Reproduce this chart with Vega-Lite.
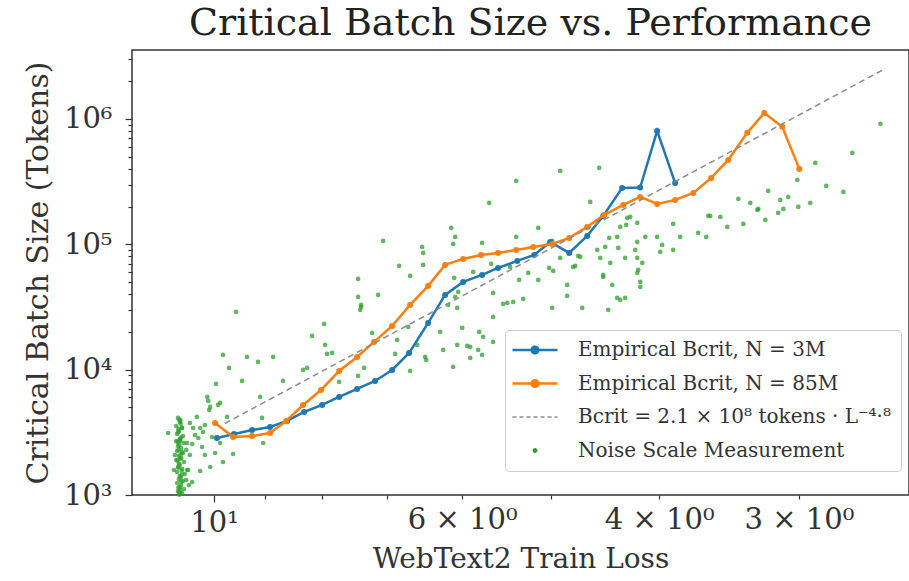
{
  "$schema": "https://vega.github.io/schema/vega-lite/v6.json",
  "width": 777,
  "height": 445,
  "autosize": {"type": "none"},
  "padding": {"left": 132, "top": 50, "right": 0, "bottom": 86},
  "background": "white",
  "title": {"text": "Critical Batch Size vs. Performance", "font": "DejaVu Serif", "fontSize": 38, "fontWeight": "normal", "color": "#222", "anchor": "middle", "offset": 2, "dx": 10},
  "config": {
    "font": "DejaVu Serif",
    "view": {"stroke": "#333", "strokeWidth": 1.5}
  },
  "datasets": {
    "noise": [
      {"L":10.77,"B":4118},{"L":10.73,"B":3825},{"L":10.81,"B":3553},{"L":10.68,"B":3424},{"L":10.75,"B":3241},{"L":10.79,"B":3069},{"L":10.66,"B":2957},{"L":10.73,"B":2798},{"L":10.81,"B":2698},{"L":10.64,"B":2600},{"L":10.77,"B":2461},{"L":10.70,"B":2372},{"L":10.79,"B":2245},{"L":10.66,"B":2163},{"L":10.75,"B":2048},{"L":10.70,"B":1974},{"L":10.81,"B":1902},{"L":10.64,"B":1834},{"L":10.73,"B":1735},{"L":10.77,"B":1673},{"L":10.68,"B":1612},{"L":10.79,"B":1526},{"L":10.62,"B":1471},{"L":10.73,"B":1418},{"L":10.75,"B":1342},{"L":10.66,"B":1293},{"L":10.79,"B":1247},{"L":10.70,"B":1202},{"L":10.73,"B":1158},{"L":10.64,"B":1117},{"L":10.77,"B":1076},{"L":10.68,"B":1037},{"L":10.73,"B":1018},{"L":10.59,"B":1317},{"L":10.86,"B":1583},{"L":10.84,"B":2085},{"L":10.59,"B":2287},{"L":10.55,"B":1583},{"L":10.53,"B":1202},
      {"L":10.72,"B":3950},{"L":10.76,"B":3350},{"L":10.70,"B":2880},{"L":10.74,"B":2520},{"L":10.71,"B":2100},{"L":10.75,"B":1780},{"L":10.69,"B":1450},{"L":10.72,"B":1100},{"L":10.74,"B":1050},{"L":10.70,"B":1280},
      {"L":10.74,"B":4000},{"L":10.71,"B":3700},{"L":10.77,"B":3150},{"L":10.72,"B":2700},{"L":10.76,"B":2300},{"L":10.72,"B":1950},{"L":10.76,"B":1650},{"L":10.71,"B":1380},{"L":10.76,"B":1150},{"L":10.74,"B":1005},{"L":10.69,"B":3450},{"L":10.78,"B":2650},{"L":10.69,"B":2200},{"L":10.78,"B":1880},{"L":10.69,"B":1560},
      {"L":9.557,"B":28870},{"L":9.817,"B":13100},{"L":9.344,"B":12630},{"L":9.134,"B":11520},{"L":8.856,"B":12630},{"L":9.696,"B":10320},{"L":9.440,"B":8125},{"L":8.676,"B":8125},{"L":9.959,"B":7690},{"L":10.14,"B":6055},{"L":10.12,"B":5627},{"L":9.877,"B":5424},{"L":10.10,"B":4769},{"L":9.096,"B":6055},{"L":9.736,"B":4194},{"L":9.059,"B":4118},{"L":10.36,"B":4194},{"L":10.51,"B":3755},{"L":10.29,"B":3424},{"L":10.44,"B":3424},{"L":10.23,"B":3182},{"L":10.99,"B":3125},{"L":10.46,"B":2553},{"L":10.25,"B":2416},{"L":10.73,"B":2748},{"L":9.877,"B":2600},{"L":9.040,"B":2600},{"L":10.19,"B":2085},{"L":9.979,"B":2163},{"L":9.616,"B":2124},{"L":9.817,"B":1834},{"L":10.08,"B":1673},{"L":10.29,"B":1554},{"L":10.57,"B":1583},{"L":10.46,"B":1270},{"L":9.918,"B":5228},{"L":10.57,"B":2600},{"L":10.08,"B":5039},{"L":10.51,"B":2085},{"L":10.33,"B":2850},{"L":10.19,"B":3619},{"L":10.04,"B":2903},{"L":10.40,"B":3012},
      {"L":7.973,"B":23150},{"L":8.172,"B":18580},{"L":7.223,"B":19630},{"L":7.388,"B":31650},{"L":7.956,"B":15750},{"L":7.924,"B":13350},{"L":8.257,"B":10320},{"L":8.325,"B":9945},{"L":7.730,"B":7977},{"L":7.343,"B":10320},{"L":6.860,"B":17260},{"L":6.706,"B":21910},{"L":6.888,"B":13350},{"L":6.679,"B":9764},{"L":6.476,"B":12630},{"L":6.462,"B":11950},{"L":7.842,"B":13590},{"L":7.434,"B":8906},{"L":7.403,"B":29950},
      {"L":5.369,"B":320600},{"L":5.676,"B":214000},{"L":6.138,"B":135200},{"L":7.061,"B":106400},{"L":6.087,"B":114600},{"L":6.113,"B":100700},{"L":6.516,"B":95330},{"L":6.502,"B":85360},{"L":5.759,"B":102600},{"L":5.369,"B":114600},{"L":5.131,"B":135200},{"L":6.832,"B":67230},{"L":6.502,"B":68480},{"L":6.679,"B":55950},{"L":7.434,"B":52950},{"L":6.100,"B":53930},{"L":5.866,"B":60220},{"L":5.653,"B":69740},{"L":5.238,"B":59120},{"L":7.134,"B":39470},{"L":7.434,"B":38040},{"L":7.388,"B":32840},{"L":5.630,"B":40940},{"L":5.469,"B":34070},{"L":5.402,"B":34700},{"L":5.292,"B":36670},{"L":5.131,"B":51990},{"L":6.087,"B":38040},{"L":4.610,"B":217900},{"L":4.986,"B":106400},{"L":5.436,"B":66010},{"L":5.017,"B":64810},{"L":4.975,"B":61340},{"L":4.904,"B":77860},{"L":4.755,"B":67230},{"L":4.726,"B":80770},{"L":4.544,"B":90230},{"L":4.433,"B":112500},{"L":4.361,"B":114600},{"L":4.281,"B":142800},{"L":4.290,"B":77860},{"L":4.352,"B":93600},{"L":4.489,"B":54940},{"L":4.406,"B":47420},{"L":4.361,"B":37350},{"L":4.443,"B":29950},{"L":4.687,"B":31070},{"L":4.986,"B":31070},{"L":4.834,"B":47420},{"L":4.834,"B":38750},{"L":5.336,"B":51990},{"L":5.515,"B":33450},{"L":5.630,"B":26340},{"L":6.050,"B":41700},{"L":6.062,"B":31070},{"L":6.176,"B":32840},{"L":6.279,"B":20000},{"L":6.000,"B":21510},{"L":5.794,"B":20000},{"L":5.747,"B":18240},{"L":5.630,"B":16640},{"L":6.062,"B":15750},{"L":5.939,"B":15460},{"L":5.902,"B":15180},{"L":5.806,"B":14360},{"L":5.759,"B":13100},{"L":5.902,"B":12400},{"L":6.113,"B":10510},{"L":6.240,"B":14360},{"L":6.583,"B":15750},
      {"L":4.904,"B":385200},{"L":4.526,"B":407000},{"L":2.901,"B":446200},{"L":2.836,"B":292500},{"L":3.010,"B":326500},{"L":3.196,"B":266800},{"L":3.399,"B":230300},{"L":3.316,"B":214000},{"L":3.118,"B":226100},{"L":3.067,"B":238900},{"L":3.004,"B":198800},{"L":2.931,"B":214000},{"L":3.262,"B":191700},{"L":3.131,"B":178100},{"L":3.215,"B":156600},{"L":3.364,"B":145500},{"L":3.527,"B":165400},{"L":3.477,"B":137700},{"L":3.601,"B":168500},{"L":3.692,"B":123300},{"L":3.831,"B":114600},{"L":3.887,"B":145500},{"L":3.887,"B":90230},{"L":3.976,"B":98900},{"L":4.017,"B":114600},{"L":3.992,"B":86970},{"L":4.116,"B":114600},{"L":4.185,"B":104500},{"L":4.185,"B":148200},{"L":4.246,"B":165400},{"L":4.334,"B":137700},{"L":4.470,"B":95330},{"L":4.516,"B":77860},{"L":4.424,"B":71040},{"L":4.185,"B":77860},{"L":4.176,"B":62470},{"L":4.159,"B":50110},{"L":4.489,"B":56990},{"L":4.775,"B":66010},{"L":4.706,"B":79300},{"L":2.688,"B":536300},{"L":2.738,"B":261900},{"L":3.268,"B":188200},{"L":3.098,"B":191700},{"L":3.616,"B":168500},{"L":3.631,"B":114600},{"L":4.142,"B":71040},{"L":4.185,"B":59120},{"L":4.159,"B":45710},{"L":4.290,"B":37350},{"L":4.334,"B":36000},{"L":2.537,"B":913800},{"L":4.202,"B":90230},{"L":4.272,"B":162400}
    ],
    "n3m": [
      {"L":9.94,"B":2850},{"L":9.596,"B":3069},{"L":9.247,"B":3302},{"L":8.911,"B":3488},{"L":8.604,"B":3896},{"L":8.308,"B":4597},{"L":8.006,"B":5227},{"L":7.730,"B":6055},{"L":7.449,"B":7015},{"L":7.178,"B":8125},{"L":6.931,"B":9945},{"L":6.693,"B":13594},{"L":6.436,"B":23590},{"L":6.215,"B":39470},{"L":5.989,"B":50120},{"L":5.759,"B":56990},{"L":5.573,"B":64800},{"L":5.357,"B":73710},{"L":5.173,"B":82310},{"L":5.006,"B":104500},{"L":4.814,"B":85360},{"L":4.639,"B":116700},{"L":4.489,"B":168500},{"L":4.317,"B":281900},{"L":4.160,"B":284000},{"L":4.017,"B":803500},{"L":3.871,"B":309000}
    ],
    "n85m": [
      {"L":9.979,"B":3754},{"L":9.616,"B":2903},{"L":9.247,"B":2957},{"L":8.911,"B":3125},{"L":8.621,"B":3896},{"L":8.325,"B":5227},{"L":8.023,"B":6886},{"L":7.730,"B":9763},{"L":7.449,"B":12630},{"L":7.193,"B":16640},{"L":6.931,"B":22330},{"L":6.679,"B":32840},{"L":6.436,"B":46560},{"L":6.215,"B":68480},{"L":5.989,"B":76450},{"L":5.771,"B":82310},{"L":5.573,"B":85360},{"L":5.369,"B":90230},{"L":5.184,"B":95330},{"L":4.985,"B":100700},{"L":4.814,"B":112500},{"L":4.639,"B":137700},{"L":4.479,"B":171600},{"L":4.307,"B":206300},{"L":4.160,"B":238900},{"L":4.017,"B":210100},{"L":3.871,"B":226100},{"L":3.729,"B":257200},{"L":3.594,"B":338800},{"L":3.470,"B":471600},{"L":3.337,"B":774600},{"L":3.222,"B":1118000},{"L":3.105,"B":864900},{"L":2.998,"B":399700}
    ],
    "fit": [
      {"L":9.78,"B":3720},{"L":2.51,"B":2530000}
    ]
  },
  "encoding": {
    "x": {
      "field": "L", "type": "quantitative",
      "scale": {"type": "log", "domain": [2.392, 11.84], "reverse": true, "nice": false, "zero": false},
      "axis": {
        "title": "WebText2 Train Loss", "titleFont": "DejaVu Serif", "titleFontSize": 28, "titleFontWeight": "normal", "titleColor": "#333", "titlePadding": 8,
        "values": [3, 4, 5, 6, 7, 8, 9, 10],
        "labelExpr": "datum.value == 10 ? '10¹' : datum.value == 6 ? '6 × 10⁰' : datum.value == 4 ? '4 × 10⁰' : datum.value == 3 ? '3 × 10⁰' : ''",
        "labelFont": "DejaVu Serif", "labelFontSize": 29, "labelColor": "#333", "labelPadding": 6, "labelOverlap": false, "labelFlush": false,
        "tickColor": "#333", "tickWidth": 1.2,
        "tickSize": {"condition": {"test": "datum.value == 10", "value": 7}, "value": 4},
        "domain": false, "grid": false
      }
    },
    "y": {
      "field": "B", "type": "quantitative",
      "scale": {"type": "log", "domain": [1000, 3550000], "nice": false, "zero": false},
      "axis": {
        "title": "Critical Batch Size (Tokens)", "titleFont": "DejaVu Serif", "titleFontSize": 30, "titleFontWeight": "normal", "titleColor": "#333", "titlePadding": 10,
        "values": [1000, 2000, 3000, 4000, 5000, 6000, 7000, 8000, 9000, 10000, 20000, 30000, 40000, 50000, 60000, 70000, 80000, 90000, 100000, 200000, 300000, 400000, 500000, 600000, 700000, 800000, 900000, 1000000, 2000000, 3000000],
        "labelExpr": "datum.value == 1000 ? '10³' : datum.value == 10000 ? '10⁴' : datum.value == 100000 ? '10⁵' : datum.value == 1000000 ? '10⁶' : ''",
        "labelFont": "DejaVu Serif", "labelFontSize": 29, "labelColor": "#333", "labelPadding": 13, "labelOverlap": false, "labelFlush": false,
        "tickColor": "#333", "tickWidth": 1.2,
        "tickSize": {"condition": {"test": "datum.value == 1000 || datum.value == 10000 || datum.value == 100000 || datum.value == 1000000", "value": 7}, "value": 4},
        "domain": false, "grid": false
      }
    }
  },
  "layer": [
    {
      "data": {"name": "noise"},
      "mark": {"type": "circle", "size": 22, "opacity": 0.75},
      "encoding": {
        "color": {
          "datum": "Noise Scale Measurement", "type": "nominal",
          "scale": {
            "domain": ["Empirical Bcrit, N = 3M", "Empirical Bcrit, N = 85M", "Bcrit = 2.1 × 10⁸ tokens · L⁻⁴·⁸", "Noise Scale Measurement"],
            "range": ["#1f77b4", "#ff7f0e", "#8c8c8c", "#2ca02c"]
          },
          "legend": {
            "title": null, "orient": "none", "legendX": 373, "legendY": 280,
            "labelFont": "DejaVu Serif", "labelFontSize": 20, "labelColor": "#333", "labelLimit": 500,
            "fillColor": "rgba(255,255,255,0.85)", "strokeColor": "#cccccc", "cornerRadius": 4, "padding": 10,
            "rowPadding": 13.5, "symbolSize": 900, "symbolOffset": 10, "labelOffset": 33,
            "symbolOpacity": 1,
            "symbolType": {"expr": "datum.index == 3 ? 'M-0.16,0A0.16,0.16 0 1,0 0.16,0A0.16,0.16 0 1,0 -0.16,0' : datum.index == 2 ? 'M-1.5,0L1.5,0' : 'M-1.5,0L1.5,0M-0.22,0A0.22,0.22 0 1,0 0.22,0A0.22,0.22 0 1,0 -0.22,0'"},
            "symbolDash": {"expr": "datum.index == 2 ? [4, 3] : [1, 0]"},
            "symbolStrokeWidth": {"expr": "datum.index == 3 ? 0 : (datum.index == 2 ? 1.5 : 2.5)"},
            "symbolFillColor": {"expr": "scale('color', datum.value)"},
            "symbolStrokeColor": {"expr": "scale('color', datum.value)"}
          }
        }
      }
    },
    {
      "data": {"name": "n3m"},
      "mark": {"type": "line", "strokeWidth": 2.5, "point": {"filled": true, "size": 36}},
      "encoding": {"color": {"datum": "Empirical Bcrit, N = 3M", "type": "nominal"}}
    },
    {
      "data": {"name": "n85m"},
      "mark": {"type": "line", "strokeWidth": 2.5, "point": {"filled": true, "size": 36}},
      "encoding": {"color": {"datum": "Empirical Bcrit, N = 85M", "type": "nominal"}}
    },
    {
      "data": {"name": "fit"},
      "mark": {"type": "line", "strokeWidth": 1.5, "strokeDash": [6, 4]},
      "encoding": {"color": {"datum": "Bcrit = 2.1 × 10⁸ tokens · L⁻⁴·⁸", "type": "nominal"}}
    }
  ]
}
